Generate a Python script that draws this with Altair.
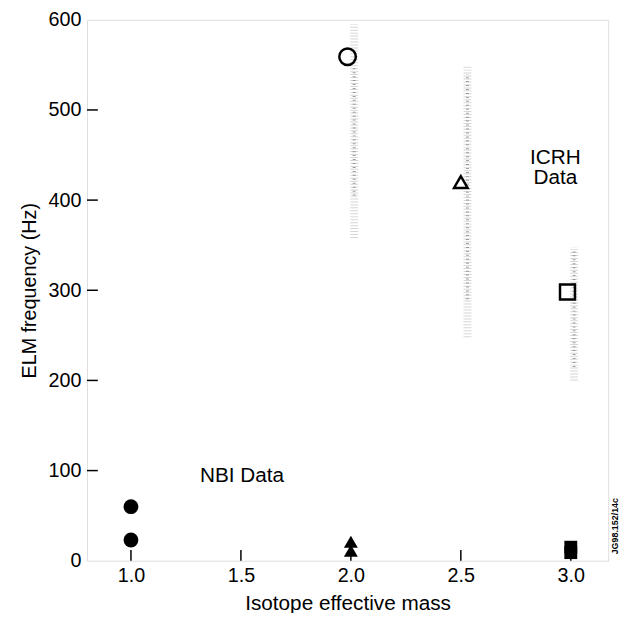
import altair as alt
import pandas as pd

# ---------------- data ----------------
# NBI data (filled markers)
nbi_mass = [1.0, 1.0, 2.0, 2.0, 3.0, 3.0]
nbi_freq = [60, 23, 21, 11, 15, 9]
nbi_shape = ["circle", "circle", "triangle-up", "triangle-up", "square", "square"]

# ICRH data (open markers)
icrh_mass = [1.985, 2.5, 2.985]
icrh_freq = [559, 420, 298]
icrh_shape = ["circle", "triangle-up", "square"]

# ICRH scatter bands (grey speckle): position, full range, dense core
band_mass = [2.015, 2.53, 3.015]
band_lo = [358, 248, 200]
band_hi = [595, 550, 348]
core_lo = [405, 290, 215]
core_hi = [548, 540, 345]

# axis ticks
y_ticks = [0, 100, 200, 300, 400, 500, 600]
x_ticks = [1.0, 1.5, 2.0, 2.5, 3.0]
y_inner_ticks = [100, 200, 300, 400, 500]

# annotations
notes_text = ["NBI Data", "ICRH", "Data"]
notes_mass = [1.505, 2.93, 2.93]
notes_freq = [94, 447, 424]

FONT = "Liberation Sans"
W, H = 528, 548

xs = alt.Scale(domain=[0.8, 3.17], nice=False, zero=False)
ys = alt.Scale(domain=[0, 600], nice=False, zero=False)

nbi = pd.DataFrame({"m": nbi_mass, "f": nbi_freq, "s": nbi_shape})
icrh = pd.DataFrame({"m": icrh_mass, "f": icrh_freq, "s": icrh_shape})
band = pd.DataFrame({"m": band_mass, "f": band_lo, "hi": band_hi,
                     "clo": core_lo, "chi": core_hi})
notes = pd.DataFrame({"t": notes_text, "m": notes_mass, "f": notes_freq})
yt = pd.DataFrame({"f": y_inner_ticks})
xt = pd.DataFrame({"m": x_ticks})

X_axis = alt.Axis(values=x_ticks, format=".1f", ticks=False, domain=False, grid=False,
                  labelFontSize=20, labelFont=FONT, labelColor="black", labelPadding=5,
                  title="Isotope effective mass", titleFontSize=21, titleFont=FONT,
                  titleFontWeight="normal", titleColor="black", titlePadding=7)
Y_axis = alt.Axis(values=y_ticks, ticks=False, domain=False, grid=False,
                  labelFontSize=20, labelFont=FONT, labelColor="black", labelPadding=6,
                  title="ELM frequency (Hz)", titleFontSize=20, titleFont=FONT,
                  titleFontWeight="normal", titleColor="black", titlePadding=9)

def X(field):
    return alt.X(field, scale=xs, axis=X_axis)

def Y(field):
    return alt.Y(field, scale=ys, axis=Y_axis)

# speckle bands
band_light = alt.Chart(band).mark_rule(color="#c4c4c4", strokeWidth=8,
                                       strokeDash=[1, 2], opacity=0.7).encode(
    x=X("m:Q"), y=Y("f:Q"), y2="hi:Q")
band_core = alt.Chart(band).mark_rule(color="#808080", strokeWidth=3,
                                      strokeDash=[1, 3], opacity=0.75).encode(
    x=X("m:Q"), y=alt.Y("clo:Q", scale=ys, axis=Y_axis), y2="chi:Q")

# inward ticks
ytick_layer = alt.Chart(yt).mark_rule(color="black", strokeWidth=1.5).encode(
    y=Y("f:Q"), x=alt.value(0), x2=alt.value(11))
xtick_layer = alt.Chart(xt).mark_rule(color="black", strokeWidth=1.5).encode(
    x=X("m:Q"), y=alt.value(H), y2=alt.value(H - 11))

def filled(shape, size):
    return alt.Chart(nbi).transform_filter(alt.datum.s == shape).mark_point(
        shape=shape, filled=True, color="black", size=size, opacity=1).encode(
        x=X("m:Q"), y=Y("f:Q"))

def hollow(shape, size):
    return alt.Chart(icrh).transform_filter(alt.datum.s == shape).mark_point(
        shape=shape, filled=False, color="black", strokeWidth=2.5, size=size,
        opacity=1).encode(x=X("m:Q"), y=Y("f:Q"))

marks = [filled("circle", 225), filled("triangle-up", 200), filled("square", 170),
         hollow("circle", 280), hollow("triangle-up", 190), hollow("square", 230)]

text_layer = alt.Chart(notes).mark_text(font=FONT, fontSize=21, color="black").encode(
    x=X("m:Q"), y=Y("f:Q"), text="t:N")

stamp = alt.Chart(pd.DataFrame({"t": ["JG98.152/14c"]})).mark_text(
    font=FONT, fontSize=9, fontWeight="bold", angle=270, color="black").encode(
    x=alt.value(W + 7), y=alt.value(H - 35), text="t:N")

chart = alt.layer(band_light, band_core, ytick_layer, xtick_layer, *marks,
                  text_layer, stamp).properties(
    width=W, height=H,
    autosize=alt.AutoSizeParams(type="none"),
    padding={"left": 80, "top": 8, "right": 14, "bottom": 49},
).configure_view(stroke="black", strokeWidth=1.5).configure(background="white")

chart.save("out.html", embed_options={"renderer": "svg", "actions": False})
